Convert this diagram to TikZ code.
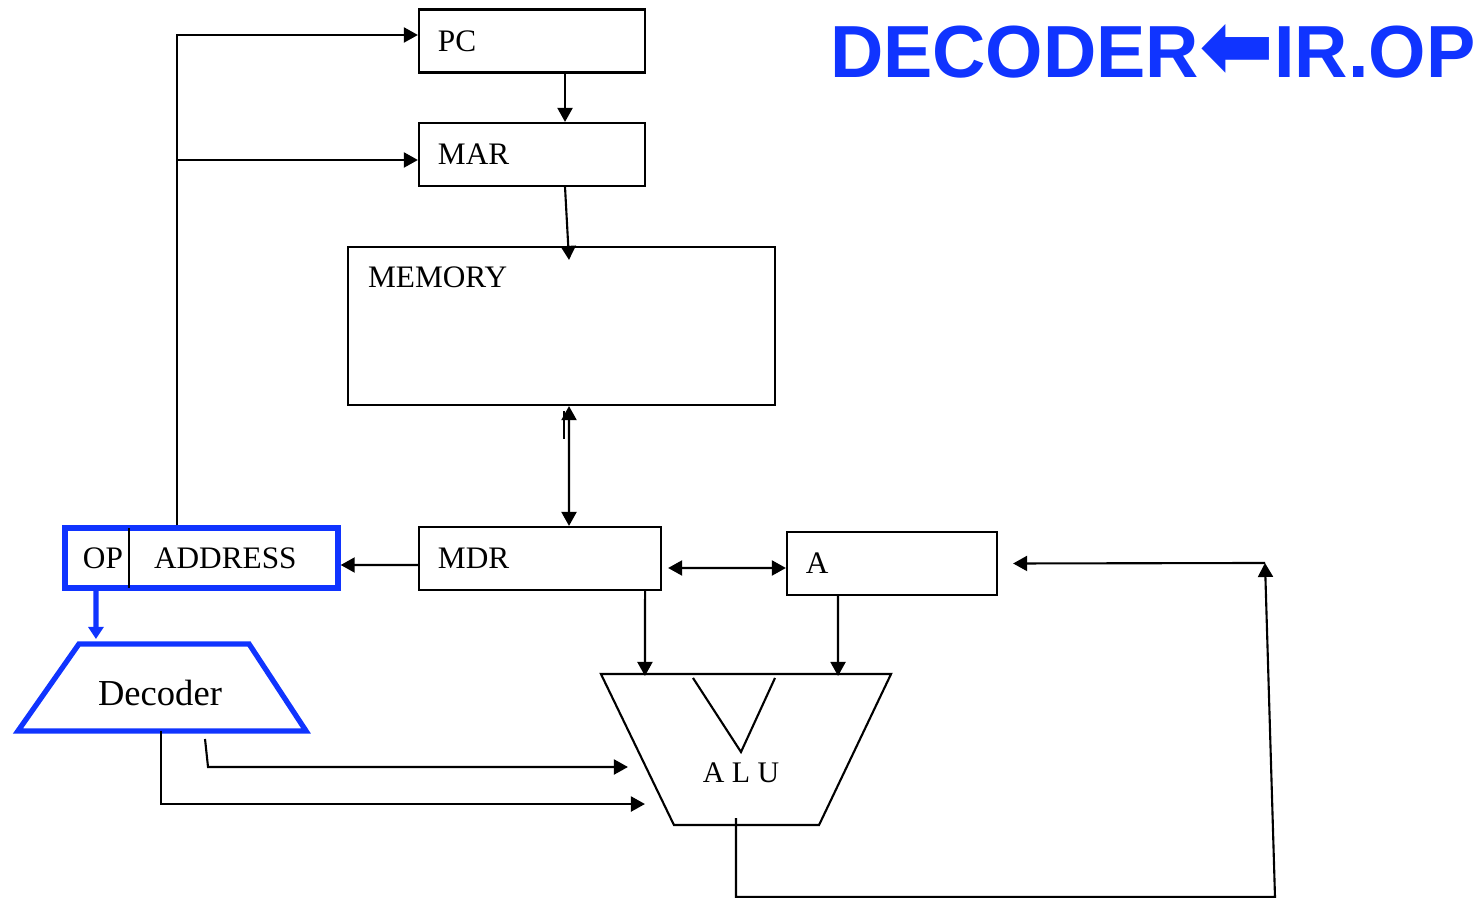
\documentclass[tikz,border=0pt]{standalone}
\usepackage{fontspec}
\setmainfont{Liberation Serif}
\newfontfamily\headfont{Liberation Sans}
\newfontfamily\symfont{DejaVu Sans}
\usetikzlibrary{arrows.meta}
\definecolor{irblue}{RGB}{16,52,255}

\begin{document}
\begin{tikzpicture}[
  x=0.01cm, y=-0.01cm,
  line width=0.6pt,
  reg/.style={rectangle, draw, minimum height=0.63cm, inner xsep=0.19cm,
              inner ysep=0pt, align=left, font=\fontsize{8.9}{10}\selectfont},
  irbox/.style={rectangle, draw=irblue, line width=1.5pt,
                minimum width=2.73cm, minimum height=0.6cm},
  txt/.style={inner sep=0pt, font=\fontsize{8.9}{10}\selectfont},
  ghost/.style={rectangle, inner sep=0pt, outer sep=0pt},
  arr/.style={-{Triangle[length=0.14cm, width=0.15cm]}},
  dbl/.style={{Triangle[length=0.14cm, width=0.15cm]}-{Triangle[length=0.14cm, width=0.15cm]}},
  bluearr/.style={draw=irblue, line width=1.5pt,
                  -{Triangle[length=0.12cm, width=0.15cm]}}
]
  \useasboundingbox (0,0) rectangle (1481,898);

  \node[font=\headfont\bfseries\fontsize{21}{24}\selectfont, text=irblue,
        inner sep=0pt, anchor=west] (title) at (829,51)
        {DECODER\resizebox{0.75cm}{0.53cm}{\symfont\bfseries ⬅}IR.OP};

  % registers and memory
  \node[reg, text width=1.88cm] (pc) at (532,41) {PC};
  \node[reg, text width=1.88cm] (mar) at (532,154.5) {MAR};
  \node[reg, minimum width=4.27cm, minimum height=1.58cm] (mem) at (561.5,326) {};
  \node[txt, anchor=west] (memtxt) at (367,277) {MEMORY};
  \node[reg, text width=2.04cm] (mdr) at (540,558.5) {MDR};
  \node[reg, text width=1.72cm] (a) at (892,563.5) {A};

  % instruction register
  \node[irbox] (ir) at (201.5,558) {};
  \node[txt] (op) at (103,558) {OP};
  \node[txt, anchor=west] (addr) at (153,558) {ADDRESS};
  \draw ([xshift=-0.725cm, yshift=-0.03cm]ir.north) -- ([xshift=-0.725cm, yshift=0.03cm]ir.south);

  % decoder
  \node[ghost, minimum width=2.88cm, minimum height=0.87cm] (dec) at (162,687.5) {};
  \draw[irblue, line width=1.5pt] ([xshift=0.61cm]dec.north west) -- ([xshift=-0.57cm]dec.north east)
    -- (dec.south east) -- (dec.south west) -- cycle;
  \node[inner sep=0pt, font=\fontsize{10.4}{12}\selectfont] (dectxt) at (160,693) {Decoder};

  % alu
  \node[ghost, minimum width=2.90cm, minimum height=1.51cm] (alu) at (746,749.5) {};
  \draw (alu.north west) -- (alu.north east) -- ([xshift=-0.72cm]alu.south east)
    -- ([xshift=0.73cm]alu.south west) -- cycle;
  \draw ([xshift=-0.53cm, yshift=-0.04cm]alu.north) -- ([xshift=-0.05cm, yshift=-0.78cm]alu.north)
    -- ([xshift=0.29cm, yshift=-0.04cm]alu.north);
  \node[txt, font=\fontsize{8.5}{10}\selectfont] (alutxt) at (741,773) {A L U};

  % edges
  \draw[arr] ([xshift=0.33cm]pc.south) -- ([xshift=0.33cm]mar.north);
  \draw[arr] ([xshift=0.33cm]mar.south) -- ([xshift=0.075cm, yshift=-0.14cm]mem.north);
  \draw[dbl] ([xshift=0.075cm]mem.south) -- ([xshift=0.29cm]mdr.north);
  \draw ([xshift=0.025cm, yshift=-0.05cm]mem.south) -- ([xshift=0.025cm, yshift=-0.33cm]mem.south);
  \draw[arr] ([yshift=-0.065cm]mdr.west) -- ([yshift=-0.07cm]ir.east);
  \draw[dbl] ([xshift=0.06cm, yshift=-0.095cm]mdr.east) -- ([yshift=-0.045cm]a.west);
  \draw[arr] ([xshift=-0.245cm]ir.north) |- ([yshift=0.06cm]pc.west);
  \draw[arr] ([xshift=-0.245cm]ir.north) |- ([yshift=-0.055cm]mar.west);
  \draw[bluearr] ([xshift=-1.055cm]ir.south) -- ([xshift=-0.66cm, yshift=0.05cm]dec.north);
  \draw[arr] ([xshift=1.05cm]mdr.south) -- ([xshift=-1.01cm, yshift=-0.02cm]alu.north);
  \draw[arr] ([xshift=-0.54cm]a.south) -- ([xshift=0.92cm, yshift=-0.02cm]alu.north);
  \draw[arr] ([xshift=-0.01cm]dec.south) |- ([xshift=0.44cm, yshift=-0.545cm]alu.west);
  \draw[arr] ([xshift=0.43cm, yshift=-0.08cm]dec.south) -- ([xshift=0.46cm, yshift=-0.36cm]dec.south)
    -- ([xshift=0.27cm, yshift=-0.175cm]alu.west);

  % feedback from alu
  \coordinate (fbbot) at (1275,897);
  \coordinate (fbtop) at (1265,563);
  \draw[arr] ([xshift=-0.1cm, yshift=0.07cm]alu.south) |- (fbbot) -- (fbtop);
  \draw[arr] (fbtop) -- ([xshift=0.15cm]a.east);
\end{tikzpicture}
\end{document}
